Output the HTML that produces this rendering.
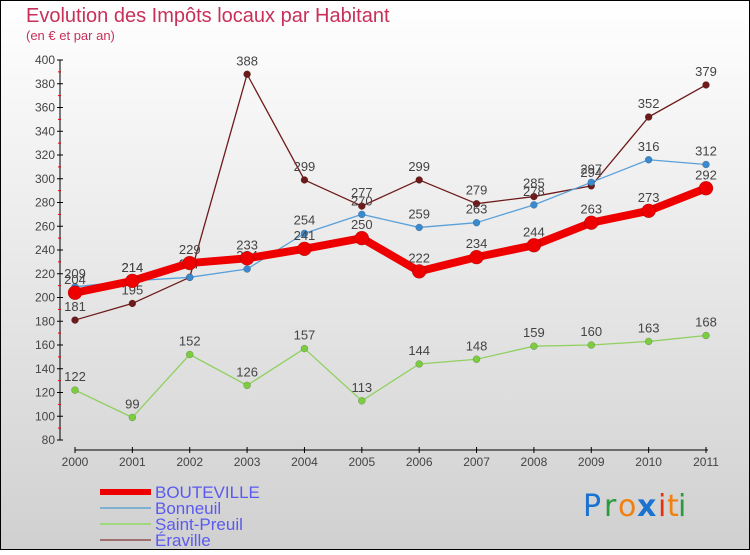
<!DOCTYPE html>
<html><head><meta charset="utf-8"><style>
body{margin:0;width:750px;height:550px;overflow:hidden;font-family:"Liberation Sans",sans-serif}
</style></head><body>
<svg width="750" height="550" xmlns="http://www.w3.org/2000/svg">
<defs><linearGradient id="bg" x1="0" y1="0" x2="0" y2="1"><stop offset="0" stop-color="#ffffff"/><stop offset="1" stop-color="#d0d0d0"/></linearGradient></defs>
<rect x="0.5" y="0.5" width="749" height="549" fill="url(#bg)" stroke="#000"/>
<text x="26" y="22" font-size="20" fill="#c8305a">Evolution des Impôts locaux par Habitant</text>
<text x="26" y="40" font-size="13" fill="#c8305a">(en € et par an)</text>
<g id="axes"></g>
<g id="series"></g>
<g id="legend"></g>
<g font-size="30" font-family="'DejaVu Sans',sans-serif">
<text x="583" y="516" fill="#1a73d0">P</text><text x="604" y="516" fill="#2a9a3a">r</text><text x="618" y="516" fill="#f08010">o</text><text x="637" y="516" fill="#1a73d0" font-weight="bold">x</text><text x="658" y="516" fill="#e83010">i</text><text x="667" y="516" fill="#f08010">t</text><text x="678" y="516" fill="#2a9a3a">i</text>
</g>
</svg>
<script>
const years=["2000","2001","2002","2003","2004","2005","2006","2007","2008","2009","2010","2011"];
const bouteville=[204,214,229,233,241,250,222,234,244,263,273,292];
const bonneuil=[209,214,217,224,254,270,259,263,278,297,316,312];
const saintPreuil=[122,99,152,126,157,113,144,148,159,160,163,168];
const eraville=[181,195,217,388,299,277,299,279,285,294,352,379];
const yTicks=[80,100,120,140,160,180,200,220,240,260,280,300,320,340,360,380,400];
const NS="http://www.w3.org/2000/svg";
const xs=i=>75+i*(706-75)/11;
const ys=v=>60+(400-v)*380/320;
function mk(tag,attrs,parent){const e=document.createElementNS(NS,tag);for(const k in attrs)e.setAttribute(k,attrs[k]);parent.appendChild(e);return e;}
const axes=document.getElementById('axes');
const ya=mk('line',{x1:60,y1:ys(400),x2:60,y2:ys(80),stroke:'#000'},axes);


yTicks.forEach(v=>{
  mk('line',{x1:57,x2:63,y1:ys(v),y2:ys(v),stroke:'#000'},axes);
  if(v<400) mk('line',{x1:58,x2:61,y1:ys(v+10),y2:ys(v+10),stroke:'#e00'},axes);
  const t=mk('text',{x:55,y:ys(v)+4,'text-anchor':'end','font-size':12,fill:'#444'},axes);
  t.textContent=v;
  
  
});
const xa=mk('line',{x1:75,y1:450,x2:xs(11)+2,y2:450,stroke:'#000'},axes);


years.forEach((y,i)=>{
  mk('line',{x1:xs(i),x2:xs(i),y1:447,y2:453,stroke:'#000'},axes);
  const t=mk('text',{x:xs(i),y:466,'text-anchor':'middle','font-size':12,fill:'#444'},axes);
  t.textContent=y;
  
  
});
const series=[
 {name:'eraville',data:eraville,color:'#6e1a1a',w:1.3,r:3.5},
 {name:'saint-preuil',data:saintPreuil,color:'#90d060',w:1.3,r:3.5,dot:'#7ccc40'},
 {name:'bonneuil',data:bonneuil,color:'#5aa0d8',w:1.3,r:3.5,dot:'#3a8ad0'},
 {name:'bouteville',data:bouteville,color:'#ee0000',w:8,r:7}
];
const sg=document.getElementById('series');
series.forEach(s=>{
  const g=mk('g',{},sg);
  
  
  const p=mk('polyline',{points:s.data.map((v,i)=>xs(i)+','+ys(v)).join(' '),fill:'none',stroke:s.color,'stroke-width':s.w,'stroke-linejoin':'round'},g);
  
  
  s.data.forEach((v,i)=>{
    const c=mk('circle',{cx:xs(i),cy:ys(v),r:s.r,fill:s.dot||s.color,stroke:'rgba(0,0,0,0.3)','stroke-width':0.5},g);
    
    
    const t=mk('text',{x:xs(i),y:ys(v)-9,'text-anchor':'middle','font-size':13,fill:'#444'},g);
    t.textContent=v;
    
    
  });
});
const leg=document.getElementById('legend');
const litems=[['BOUTEVILLE','#ee0000',6],['Bonneuil','#80b0d0',2],['Saint-Preuil','#a0d880',2],['Éraville','#a07070',2]];
litems.forEach((it,i)=>{
  const y=492+i*16;
  const l=mk('line',{x1:100,x2:151,y1:y,y2:y,stroke:it[1],'stroke-width':it[2]},leg);
  
  
  const t=mk('text',{x:155,y:y+6,'font-size':17,fill:'#5a5aee'},leg);
  t.textContent=it[0];
  
  
});
</script>
</body></html>
